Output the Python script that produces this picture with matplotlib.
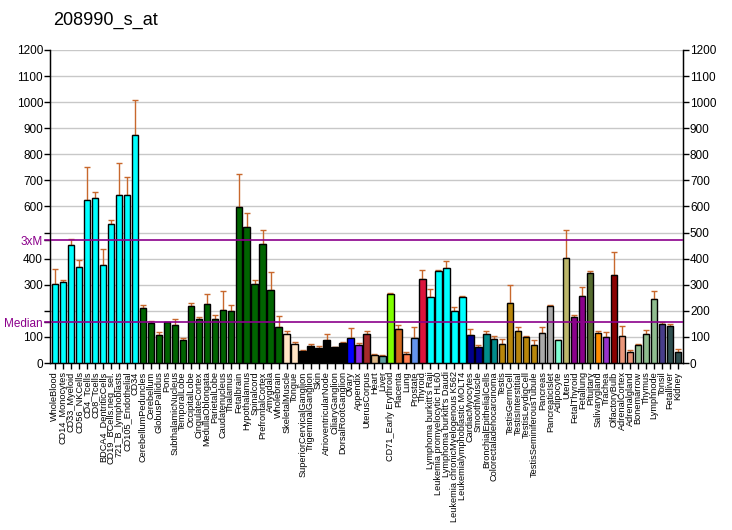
import matplotlib
matplotlib.use("Agg")
import matplotlib.pyplot as plt
import matplotlib.transforms as mtransforms
import numpy as np

plt.rcParams['font.family'] = ['Liberation Sans', 'DejaVu Sans']

title = "208990_s_at"
categories = ["WholeBlood", "CD14_Monocytes", "CD33_Myeloid", "CD56_NKCells", "CD4_Tcells",
              "CD8_Tcells", "BDCA4_DentriticCells", "CD19_BCells.neg_sel.", "721_B_lymphoblasts",
              "CD105_Endothelial", "CD34", "CerebellumPeduncles", "Cerebellum", "GlobusPallidus",
              "Pons", "SubthalamicNucleus", "TemporalLobe", "OccipitalLobe", "CingulateCortex",
              "MedullaOblongata", "ParietalLobe", "Caudatenucleus", "Thalamus", "Fetalbrain",
              "Hypothalamus", "Spinalcord", "PrefrontalCortex", "Amygdala", "Wholebrain",
              "SkeletalMuscle", "Tongue", "SuperiorCervicalGanglion", "TrigeminalGanglion", "Skin",
              "AtrioventricularNode", "CiliaryGanglion", "DorsalRootGanglion", "Ovary", "Appendix",
              "UterusCorpus", "Heart", "Liver", "CD71_Early Erythroid", "Placenta", "Lung",
              "Prostate", "Thyroid", "Lymphoma burkitt's Raji", "Leukemia promyelocytic HL60",
              "Lymphoma burkitt's Daudi", "Leukemia chronicMyelogenous K562",
              "Leukemialymphoblastic MOLT4", "CardiacMyocytes", "SmoothMuscle",
              "BronchialEpithelialCells", "Colorectaladenocarcinoma", "Testis", "TestisGermCell",
              "TestisInterstitial", "TestisLeydigCell", "TestisSeminiferousTubule", "Pancreas",
              "PancreaticIslet", "Adipocyte", "Uterus", "FetalThyroid", "Fetallung", "Pituitary",
              "Salivarygland", "Trachea", "OlfactoryBulb", "AdrenalCortex", "Adrenalgland",
              "Bonemarrow", "Thymus", "Lymphnode", "Tonsil", "Fetalliver", "Kidney"]

values = [304, 312, 454, 369, 626, 634, 377, 534, 645, 645, 875,
          212, 155, 109, 157, 147, 90, 220, 170, 228, 170, 205, 201, 599, 523, 304, 457, 281, 139,
          110, 72, 45, 64, 56, 87, 60, 75, 95, 68, 110, 30, 26, 266, 129, 33, 95, 323,
          252, 351, 363, 198, 252, 106, 60, 110, 91, 72, 229, 121, 98, 68, 114, 217, 87, 404,
          175, 255, 344, 114, 98, 336, 102, 41, 68, 110, 244, 148, 141, 41]

err_top = [362, 318, 477, 396, 752, 657, 438, 549, 768, 714, 1010,
           224, 162, 120, 158, 170, 97, 231, 178, 266, 185, 277, 224, 726, 576, 320, 511, 350, 182,
           124, 82, 49, 72, 64, 113, 60, 82, 133, 78, 124, 33, 30, 270, 144, 41, 137, 355,
           282, 355, 390, 213, 256, 129, 68, 121, 102, 91, 298, 137, 102, 90, 137, 224, 90, 508,
           185, 290, 351, 124, 117, 424, 140, 49, 72, 125, 275, 158, 151, 53]

colors = (["#00FFFF"] * 11 + ["#006400"] * 18 + ["#FFE4C4"] * 2 + ["#000000"] * 6 +
          ["#0000FF", "#8A2BE2", "#A52A2A", "#DEB887", "#5F9EA0", "#7FFF00", "#D2691E",
           "#FF7F50", "#6495ED", "#DC143C"] + ["#00FFFF"] * 5 + ["#00008B"] * 2 +
          ["#008B8B"] * 2 + ["#B8860B"] * 5 + ["#A9A9A9"] * 2 +
          ["#7FFFD4", "#BDB76B", "#8B008B", "#8B008B", "#556B2F", "#FF8C00", "#9932CC",
           "#8B0000", "#E9967A", "#E9967A", "#8FBC8F", "#8FBC8F", "#8FBC8F", "#483D8B",
           "#2F4F4F", "#2F4F4F"])

median_val = 157
three_xm = 471
y_ticks = list(range(0, 1300, 100))

fig = plt.figure(figsize=(7.32, 5.30), dpi=100)
ax = fig.add_axes([50 / 732, 1 - 363 / 530, 633 / 732, 313 / 530])

x = np.arange(len(categories))
vals = np.array(values)
errs = np.array(err_top) - vals

ax.set_axisbelow(True)
for t in y_ticks:
    ax.axhline(t, color="#c8c8c8", lw=1, zorder=0)

ax.bar(x, vals, width=0.78, color=colors, edgecolor="black", linewidth=1, zorder=3)
ax.errorbar(x, vals, yerr=[np.zeros_like(errs), errs], fmt="none", ecolor="#c8682d",
            elinewidth=1, capsize=2, capthick=1, zorder=2)

trans = mtransforms.blended_transform_factory(ax.transAxes, ax.transData)
for v in (median_val, three_xm):
    ax.plot([-0.008, 1.0], [v, v], color="#8B008B", lw=1.2, transform=trans,
            clip_on=False, zorder=4)

ax.set_xlim(-0.6, len(categories) - 0.4)
ax.set_ylim(0, 1200)

ax.spines["top"].set_visible(False)
for s in ("left", "right", "bottom"):
    ax.spines[s].set_linewidth(1)
    ax.spines[s].set_color("black")

ax.set_xticks(x)
ax.set_xticklabels(categories, rotation=90, fontsize=6.6, va="top", ha="center")
ax.tick_params(axis="x", length=4, width=1, pad=2)

left_ticks = y_ticks + [median_val, three_xm]
left_labels = [("" if t in (200, 500) else str(t)) for t in y_ticks] + ["Median", "3xM"]
ax.set_yticks(left_ticks)
ax.set_yticklabels(left_labels, fontsize=8.5)
ax.tick_params(axis="y", length=4, width=1, pad=1)
for lbl in ax.get_yticklabels()[-2:]:
    lbl.set_color("#8B008B")

ax2 = ax.twinx()
ax2.set_ylim(0, 1200)
ax2.set_yticks(y_ticks)
ax2.set_yticklabels([str(t) for t in y_ticks], fontsize=8.5)
ax2.tick_params(axis="y", length=4, width=1, pad=1)
ax2.spines["top"].set_visible(False)

fig.text(53 / 732, 1 - 20 / 530, title, fontsize=13, va="center", ha="left")

fig.savefig("out.png", dpi=100)
